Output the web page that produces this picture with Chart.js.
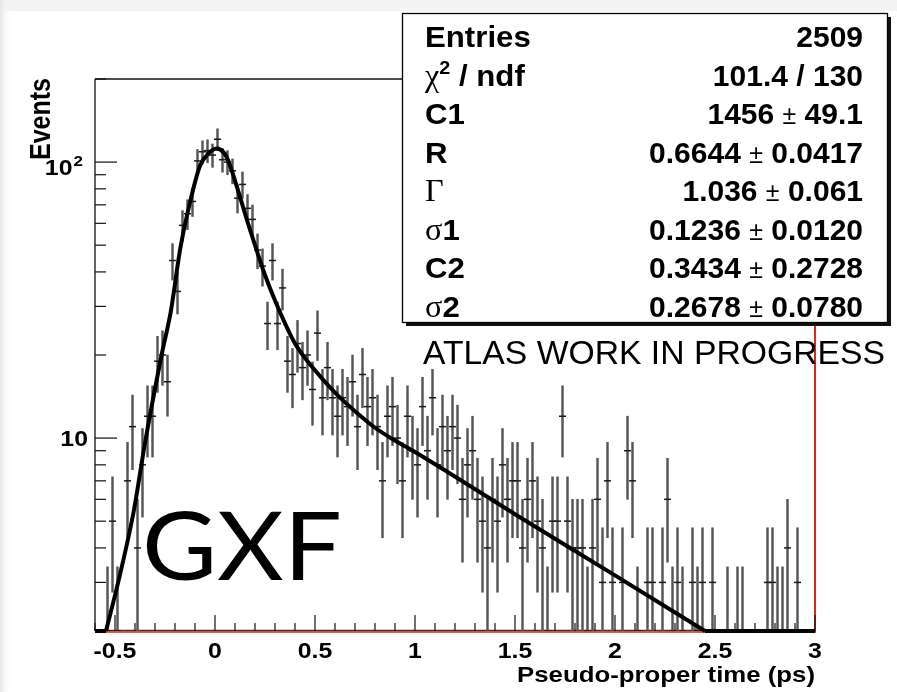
<!DOCTYPE html>
<html>
<head>
<meta charset="utf-8">
<script src="https://cdn.jsdelivr.net/npm/chart.js@4.4.1/dist/chart.umd.min.js"></script>
<style>
  html, body { margin: 0; padding: 0; background: #fff; overflow: hidden; }
  #wrap { position: relative; width: 897px; height: 692px; }
</style>
</head>
<body>
<div id="wrap"><canvas id="c" width="897" height="692"></canvas></div>
<script>
// Histogram binning: 144 bins of 0.025 ps from -0.6 ps
const binLow = -0.6;
const binWidth = 0.025;

// Events per bin
const counts = [
  0, 0, 2, 5, 2, 1, 7, 11, 4, 8,
  12, 12, 19, 20, 16, 44, 34, 59, 65, 72,
  101, 109, 110, 106, 121, 102, 100, 93, 74, 83,
  68, 62, 48, 42, 26, 44, 26, 35, 19, 17,
  22, 18, 20, 15, 24, 14, 18, 14, 12, 14,
  13, 16, 11, 17, 13, 14, 11, 7, 12, 13,
  10, 7, 12, 9, 8, 13, 9, 14, 8, 11,
  9, 11, 10, 6, 8, 9, 6, 5, 4, 6,
  5, 8, 6, 7, 7, 4, 6, 7, 5, 4,
  2, 5, 5, 12, 5, 4, 4, 4, 2, 4,
  6, 3, 7, 3, 1, 3, 9, 7, 2, 1,
  3, 3, 1, 3, 6, 2, 3, 2, 1, 3,
  2, 3, 1, 3, 1, 1, 2, 1, 2, 2,
  1, 0, 1, 1, 3, 3, 2, 2, 4, 1,
  3, 0, 1, 0
];

// Fitted curve, sampled along the time axis (where it is above the axis floor)
const fitX = [-0.545, -0.475, -0.405, -0.35, -0.267, -0.22, -0.175, -0.128, -0.075,
              -0.035, 0.008, 0.045, 0.067, 0.108, 0.165, 0.2, 0.25, 0.3, 0.4,
              0.5, 0.6, 0.7, 0.8, 0.9, 1.0, 1.5, 2.0, 2.45];
const fitY = [2.0, 3.2, 5.5, 9.6, 20, 29, 48, 70, 97,
              107, 112, 108, 101, 82, 60, 50, 39, 31.5, 22,
              17.6, 14.6, 12.5, 10.9, 9.8, 8.9, 5.3, 3.18, 2.0];
// Stretches where the curve runs along the bottom of the frame
const floorX = [-0.6, -0.545, null, 2.45, 3.0];

// Axis ranges and tick labels
const xMin = -0.6, xMax = 3.0;
const yMin = 2, yMax = 200;
const xTickValues = [-0.5, 0, 0.5, 1, 1.5, 2, 2.5, 3];
const xTickLabels = ['-0.5', '0', '0.5', '1', '1.5', '2', '2.5', '3'];
const xTitle = 'Pseudo-proper time (ps)';
const yTitle = 'Events';

// Fit statistics panel
const statNames  = ['Entries', 'χ^2 / ndf', 'C1', 'R', 'Γ', 'σ1', 'C2', 'σ2'];
const statValues = ['2509', '101.4 / 130', '1456 ± 49.1', '0.6644 ± 0.0417',
                    '1.036 ± 0.061', '0.1236 ± 0.0120', '0.3434 ± 0.2728', '0.2678 ± 0.0780'];
const noteText = 'ATLAS WORK IN PROGRESS';
const methodText = 'GXF';

// ---- datasets built from the arrays above ----
const centers = counts.map((_, i) => binLow + binWidth * (i + 0.5));
const errBars = [];
const markers = [];
counts.forEach((n, i) => {
  if (n <= 0) return;
  const e = Math.sqrt(n);
  errBars.push({ x: centers[i], y: [Math.max(n - e, 0.5), n + e] });
  markers.push({ x: centers[i], y: n });
});
const fitPts = fitX.map((x, i) => ({ x, y: fitY[i] }));
const floorPts = [];
floorX.forEach((x, i) => {
  if (x === null) floorPts.push({ x: (floorX[i - 1] + floorX[i + 1]) / 2, y: null });
  else floorPts.push({ x, y: yMin });
});

const SANS = '"Liberation Sans", Arial, Helvetica, sans-serif';
const SERIF = '"Liberation Serif", "Times New Roman", serif';

function drawScaled(ctx, s, x, y, font, align, hs) {
  ctx.save();
  ctx.font = font;
  ctx.textBaseline = 'alphabetic';
  ctx.textAlign = 'left';
  const w = ctx.measureText(s).width * hs;
  const x0 = align === 'right' ? x - w : align === 'center' ? x - w / 2 : x;
  ctx.translate(x0, y);
  ctx.scale(hs, 1);
  ctx.fillText(s, 0, 0);
  ctx.restore();
  return w;
}

// Text with Greek letters in serif, "^x" superscripts and a lighter ± sign
function richRuns(str) {
  const runs = [];
  for (let i = 0; i < str.length; i++) {
    const c = str[i];
    let kind;
    if (c === '^') { i++; runs.push({ t: str[i], kind: 'sup' }); continue; }
    if ('χΓσ'.includes(c)) kind = 'greek';
    else if (c === '±') kind = 'pm';
    else kind = 'bold';
    const last = runs[runs.length - 1];
    if (last && last.kind === kind && kind !== 'sup') last.t += c;
    else runs.push({ t: c, kind });
  }
  return runs;
}
const runFont = {
  bold: 'bold 30px ' + SANS,
  greek: '31px ' + SERIF,
  pm: '25px ' + SANS,
  sup: 'bold 19px ' + SANS
};
const runRise = { bold: 0, greek: 0, pm: 0, sup: -12 };
function drawRich(ctx, str, x, y, align, hs) {
  const runs = richRuns(str);
  let total = 0;
  runs.forEach(r => { ctx.font = runFont[r.kind]; r.w = ctx.measureText(r.t).width * hs; total += r.w; });
  let cx = align === 'right' ? x - total : x;
  runs.forEach(r => {
    drawScaled(ctx, r.t, cx, y + runRise[r.kind], runFont[r.kind], 'left', hs);
    cx += r.w;
  });
}

const decorations = {
  id: 'decorations',
  beforeDraw(chart) {
    const ctx = chart.ctx;
    ctx.save();
    ctx.fillStyle = '#ffffff';
    ctx.fillRect(0, 0, chart.width, chart.height);
    ctx.fillStyle = '#f3f3f3';
    ctx.fillRect(0, 0, chart.width, 11);
    const g = ctx.createLinearGradient(0, 0, 12, 0);
    g.addColorStop(0, '#e6e6e6');
    g.addColorStop(1, 'rgba(255,255,255,0)');
    ctx.fillStyle = g;
    ctx.fillRect(0, 0, 12, chart.height);
    ctx.restore();
  },
  // frame and tick marks go underneath the histogram and the fit curve
  beforeDatasetsDraw(chart) {
    const ctx = chart.ctx;
    const a = chart.chartArea;
    const xs = chart.scales.x, ys = chart.scales.y;
    ctx.save();
    const seg = (x1, y1, x2, y2) => { ctx.beginPath(); ctx.moveTo(x1, y1); ctx.lineTo(x2, y2); ctx.stroke(); };
    ctx.strokeStyle = '#111';
    ctx.lineWidth = 1.3;
    seg(a.left, a.top, a.left, a.bottom);
    seg(a.left, a.top, a.right, a.top);
    ctx.strokeStyle = '#333';
    seg(a.left, a.bottom - 0.5, a.right, a.bottom - 0.5);
    ctx.strokeStyle = 'rgb(214,40,28)';
    ctx.lineWidth = 1.5;
    seg(a.left, a.bottom + 1, a.right + 1, a.bottom + 1);
    ctx.lineWidth = 2;
    seg(a.right, a.top, a.right, a.bottom + 1);

    // x ticks: every 0.1, long ones every 0.5
    ctx.strokeStyle = '#111';
    ctx.lineWidth = 1.2;
    for (let k = Math.round(xMin * 10); k <= Math.round(xMax * 10); k++) {
      const px = xs.getPixelForValue(k / 10);
      const len = k % 5 === 0 ? 16 : 8;
      seg(px, a.bottom, px, a.bottom - len);
    }
    // y ticks: decades long, 2..9 short
    for (let d = 1; d <= 100; d *= 10) {
      for (let m = 1; m <= 9; m++) {
        const v = d * m;
        if (v < yMin || v > yMax) continue;
        const py = ys.getPixelForValue(v);
        seg(a.left, py, a.left + (m === 1 ? 22 : 11), py);
      }
    }
    ctx.restore();
  },
  afterDraw(chart) {
    const ctx = chart.ctx;
    const a = chart.chartArea;
    const xs = chart.scales.x, ys = chart.scales.y;
    ctx.save();

    // tick labels
    ctx.fillStyle = '#000';
    const tickFont = 'bold 22px ' + SANS;
    xTickValues.forEach((v, i) => {
      drawScaled(ctx, xTickLabels[i], xs.getPixelForValue(v), a.bottom + 27, tickFont, 'center', 1.13);
    });
    const y10 = ys.getPixelForValue(10);
    drawScaled(ctx, '10', 88, y10 + 8, tickFont, 'right', 1.13);
    const y100 = ys.getPixelForValue(100);
    drawScaled(ctx, '10', 72.5, y100 + 13, tickFont, 'right', 1.13);
    drawScaled(ctx, '2', 73.5, y100 + 4, 'bold 15px ' + SANS, 'left', 1.13);

    // axis titles
    ctx.font = 'bold 22px ' + SANS;
    const tw = ctx.measureText(xTitle).width;
    drawScaled(ctx, xTitle, a.right, 682, 'bold 22px ' + SANS, 'right', 298 / tw);
    ctx.save();
    ctx.translate(50, 78);
    ctx.rotate(-Math.PI / 2);
    ctx.scale(1, 1.2);
    ctx.font = 'bold 25px ' + SANS;
    ctx.textAlign = 'right';
    ctx.textBaseline = 'alphabetic';
    ctx.fillText(yTitle, 0, 0);
    ctx.restore();

    // statistics panel with drop shadow
    const bx = 402, by = 13, bw = 485, bh = 309;
    ctx.fillStyle = '#111';
    ctx.fillRect(bx + 4, by + bh, bw, 4);
    ctx.fillRect(bx + bw, by + 4, 4, bh);
    ctx.fillStyle = '#fff';
    ctx.fillRect(bx, by, bw, bh);
    ctx.strokeStyle = '#000';
    ctx.lineWidth = 1.3;
    ctx.strokeRect(bx + 0.5, by + 0.5, bw, bh);
    ctx.fillStyle = '#000';
    statNames.forEach((nm, k) => {
      const base = 36 + 38.5 * k + 11;
      drawRich(ctx, nm, 425, base, 'left', 1.04);
      drawRich(ctx, statValues[k], 863, base, 'right', 1.0);
    });

    // note below the panel
    ctx.font = '34px ' + SANS;
    const nw = ctx.measureText(noteText).width;
    drawScaled(ctx, noteText, 423, 364, '34px ' + SANS, 'left', 462 / nw);

    // fit method label
    ctx.font = '95px Lato, "Open Sans", sans-serif';
    const mw = ctx.measureText(methodText).width;
    drawScaled(ctx, methodText, 142, 580, '95px Lato, "Open Sans", sans-serif', 'left', 200 / mw);
    ctx.restore();
  }
};

const fitStyle = { borderColor: '#000', borderWidth: 4, pointRadius: 0, clip: { left: 0, top: 0, right: 0, bottom: 3 } };

new Chart(document.getElementById('c'), {
  type: 'line',
  data: {
    datasets: [
      Object.assign({ type: 'line', label: 'fit', data: fitPts, cubicInterpolationMode: 'monotone', order: 0 }, fitStyle),
      Object.assign({ type: 'line', label: 'fit floor', data: floorPts, tension: 0, spanGaps: false, order: 0 }, fitStyle),
      {
        type: 'scatter',
        label: 'counts',
        data: markers,
        pointStyle: 'line',
        pointRadius: 3.5,
        borderColor: '#1a1a1a',
        pointBorderWidth: 1.5,
        showLine: false,
        order: 1
      },
      {
        type: 'bar',
        label: 'errors',
        data: errBars,
        backgroundColor: '#555',
        borderWidth: 0,
        barThickness: 1.8,
        grouped: false,
        order: 2
      }
    ]
  },
  options: {
    responsive: false,
    animation: false,
    devicePixelRatio: 1,
    layout: { padding: { top: 79, right: 82, left: 0, bottom: 0 } },
    plugins: { legend: { display: false }, tooltip: { enabled: false } },
    scales: {
      x: {
        type: 'linear', min: xMin, max: xMax, offset: false,
        grid: { display: false }, border: { display: false },
        ticks: { display: false },
        afterFit: s => { s.height = 61; }
      },
      y: {
        type: 'logarithmic', min: yMin, max: yMax,
        grid: { display: false }, border: { display: false },
        ticks: { display: false },
        afterFit: s => { s.width = 95; }
      }
    }
  },
  plugins: [decorations]
});
</script>
</body>
</html>
